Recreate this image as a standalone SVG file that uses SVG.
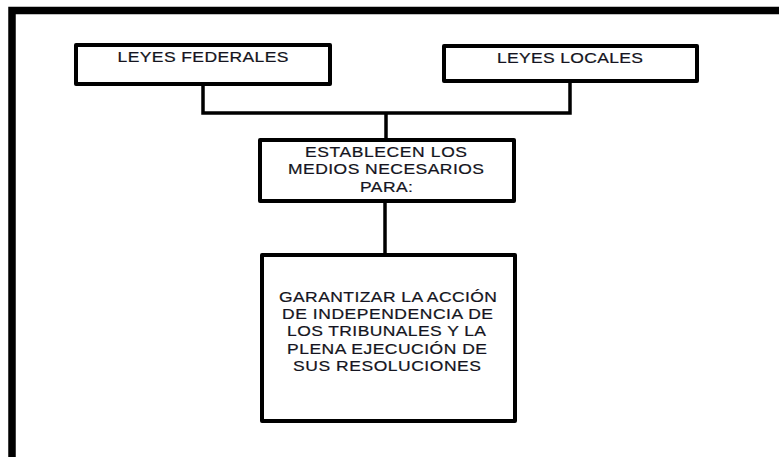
<svg xmlns="http://www.w3.org/2000/svg" width="779" height="457" viewBox="0 0 779 457">
<style>
.box{fill:#fff;stroke:#000;stroke-width:4;stroke-linejoin:round}
.frame{fill:#fff;stroke:#000;stroke-width:7.5}
.conn{fill:none;stroke:#000;stroke-width:3.5;stroke-linejoin:miter}
.t{font-family:"Liberation Sans",Arial,sans-serif;font-size:14px;fill:#141420;stroke:#141420;stroke-width:0.2;text-anchor:middle}
</style>
<rect width="779" height="457" fill="#fff"/>
<rect class="frame" x="12" y="10.5" width="800" height="500"/>
<g id="connectors">
<path class="conn" d="M203 84 V113 H570 V81"/>
<path class="conn" d="M386 113 V140"/>
<path class="conn" d="M385 201 V255"/>
</g>
<g id="leyes-federales">
<rect class="box" x="76" y="45" width="254" height="39"/>
<text class="t" transform="translate(203 62) scale(1.25 1)" textLength="136.8" lengthAdjust="spacing">LEYES FEDERALES</text>
</g>
<g id="leyes-locales">
<rect class="box" x="444" y="46" width="253" height="35"/>
<text class="t" transform="translate(570 63) scale(1.25 1)" textLength="116.8" lengthAdjust="spacing">LEYES LOCALES</text>
</g>
<g id="establecen">
<rect class="box" x="260" y="140" width="254" height="61"/>
<text class="t" transform="translate(386 157) scale(1.25 1)" textLength="129.6" lengthAdjust="spacing">ESTABLECEN LOS</text>
<text class="t" transform="translate(386 174.3) scale(1.25 1)" textLength="156.8" lengthAdjust="spacing">MEDIOS NECESARIOS</text>
<text class="t" transform="translate(386.5 191.7) scale(1.25 1)" textLength="42.4" lengthAdjust="spacing">PARA:</text>
</g>
<g id="garantizar">
<rect class="box" x="262" y="255" width="253" height="166"/>
<text class="t" transform="translate(388 301.5) scale(1.25 1)" textLength="174.4" lengthAdjust="spacing">GARANTIZAR LA ACCIÓN</text>
<text class="t" transform="translate(387.5 319) scale(1.25 1)" textLength="168.8" lengthAdjust="spacing">DE INDEPENDENCIA DE</text>
<text class="t" transform="translate(386.5 336.3) scale(1.25 1)" textLength="159.2" lengthAdjust="spacing">LOS TRIBUNALES Y LA</text>
<text class="t" transform="translate(387 353.5) scale(1.25 1)" textLength="160" lengthAdjust="spacing">PLENA EJECUCIÓN DE</text>
<text class="t" transform="translate(387 370.8) scale(1.25 1)" textLength="150.4" lengthAdjust="spacing">SUS RESOLUCIONES</text>
</g>
</svg>
